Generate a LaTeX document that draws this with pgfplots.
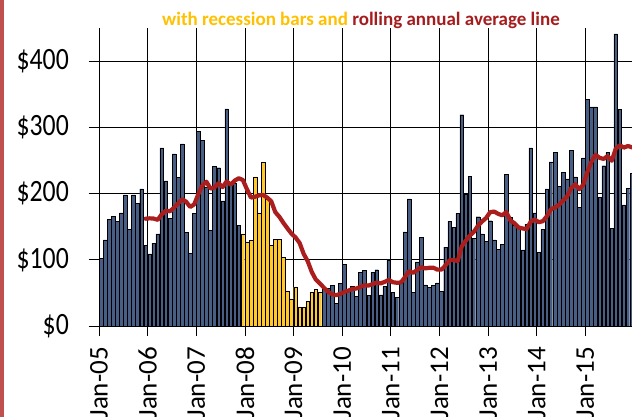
\documentclass[border=0pt]{standalone}
\usepackage{pgfplots}
\pgfplotsset{compat=1.18}
\usepackage{fontspec}
\setmainfont{Carlito}
\definecolor{barblue}{RGB}{72,94,132}
\definecolor{recyel}{RGB}{255,200,45}
\definecolor{linered}{RGB}{170,30,30}
\definecolor{subyel}{RGB}{255,192,0}
\definecolor{subred}{RGB}{165,28,30}
\definecolor{borderred}{RGB}{192,80,77}
\newcommand{\yl}[1]{\scalebox{0.83}[1]{#1}}
\pgfplotstableread{
i v
0 102
1 130
2 161
3 166
4 158
5 171
6 198
7 146
8 198
9 185
10 207
11 122
12 109
13 125
14 139
15 269
16 219
17 163
18 260
19 224
20 275
21 141
22 110
23 170
24 294
25 280
26 210
27 144
28 241
29 239
30 189
31 328
32 215
33 215
34 152
55 55
56 57
57 61
58 34
59 64
60 93
61 53
62 60
63 45
64 81
65 84
66 46
67 81
68 85
69 47
70 60
71 100
72 51
73 43
74 65
75 142
76 192
77 51
78 97
79 134
80 62
81 58
82 61
83 65
84 52
85 119
86 158
87 149
88 170
89 319
90 199
91 226
92 132
93 165
94 139
95 128
96 159
97 130
98 116
99 123
100 229
101 164
102 152
103 148
104 115
105 154
106 269
107 171
108 111
109 146
110 207
111 248
112 262
113 211
114 232
115 222
116 265
117 225
118 179
119 254
120 342
121 331
122 331
123 194
124 242
125 262
126 147
127 441
128 327
129 183
130 208
131 230
}\bluedata
\pgfplotstableread{
i v
35 138
36 127
37 129
38 225
39 170
40 247
41 192
42 122
43 131
44 131
45 104
46 53
47 41
48 59
49 29
50 28
51 37
52 51
53 55
54 51
}\recdata
\pgfplotstableread{
i v
11 162.0
12 162.6
13 162.2
14 160.3
15 168.9
16 174.0
17 173.3
18 178.5
19 185.0
20 191.4
21 187.8
22 179.7
23 183.7
24 199.1
25 212.0
26 217.9
27 207.5
28 209.3
29 215.7
30 209.8
31 218.4
32 213.4
33 219.6
34 223.1
35 220.4
36 206.5
37 193.9
38 195.2
39 197.3
40 197.8
41 193.9
42 188.3
43 171.9
44 164.9
45 155.7
46 147.4
47 139.3
48 133.7
49 125.3
50 108.9
51 97.8
52 81.5
53 70.1
54 64.2
55 57.8
56 51.7
57 48.1
58 46.5
59 48.4
60 51.3
61 53.3
62 55.9
63 56.6
64 59.1
65 61.5
66 61.1
67 63.3
68 65.6
69 64.4
70 66.6
71 69.6
72 66.1
73 65.3
74 65.7
75 73.8
76 83.0
77 80.3
78 84.5
79 88.9
80 87.0
81 87.9
82 88.0
83 85.1
84 85.2
85 91.5
86 99.3
87 99.8
88 98.0
89 120.3
90 128.8
91 136.5
92 142.3
93 151.3
94 157.8
95 163.0
96 171.9
97 172.8
98 169.3
99 167.2
100 172.1
101 159.2
102 155.3
103 148.8
104 147.3
105 146.4
106 157.3
107 160.8
108 156.8
109 158.2
110 165.8
111 176.2
112 178.9
113 182.8
114 189.5
115 195.7
116 208.2
117 214.1
118 206.6
119 213.5
120 232.8
121 248.2
122 258.5
123 254.0
124 252.3
125 256.6
126 249.5
127 267.8
128 272.9
129 269.4
130 271.8
131 269.8
}\madata
\begin{document}
\begin{tikzpicture}[x=1pt,y=1pt]
\useasboundingbox (0,0) rectangle (632,417);
\fill[borderred] (0,0) rectangle (4,417);
\node[font=\bfseries\fontsize{19}{21}\selectfont, anchor=base, inner sep=0pt] at (361,391.5)
  {\textcolor{subyel}{with recession bars and} \textcolor{subred}{rolling annual average line}};
\begin{axis}[
  at={(99pt,91pt)}, anchor=south west,
  scale only axis, width=535pt, height=298pt,
  xmin=-0.5, xmax=131.5, ymin=0, ymax=450,
  axis x line*=bottom, axis y line*=left,
  axis line style={black, line width=0.8pt, -},
  xtick={-0.5,11.5,23.5,35.5,47.5,59.5,71.5,83.5,95.5,107.5,119.5},
  xticklabels={Jan-05,Jan-06,Jan-07,Jan-08,Jan-09,Jan-10,Jan-11,Jan-12,Jan-13,Jan-14,Jan-15},
  ytick={0,100,200,300,400},
  yticklabels={\yl{\$0},\yl{\$100},\yl{\$200},\yl{\$300},\yl{\$400}},
  grid=major, major grid style={black, line width=0.7pt},
  tick align=outside, major tick length=10pt,
  tick style={black, line width=0.7pt},
  yticklabel style={font=\fontsize{31}{34}\selectfont, anchor=east, inner xsep=20pt, inner ysep=0pt},
  xticklabel style={font=\fontsize{27}{30}\selectfont, rotate=90, anchor=east, inner xsep=11pt, inner ysep=0pt},
  clip=false,
]
\addplot[ybar, bar width=0.9, bar shift=0pt, fill=barblue, draw=black, line width=0.4pt] table[x=i,y=v] {\bluedata};
\addplot[ybar, bar width=0.9, bar shift=0pt, fill=recyel, draw=black, line width=0.4pt] table[x=i,y=v] {\recdata};
\addplot[linered, line width=4.2pt, line join=round, line cap=round] table[x=i,y=v] {\madata};
\end{axis}
\end{tikzpicture}
\end{document}
